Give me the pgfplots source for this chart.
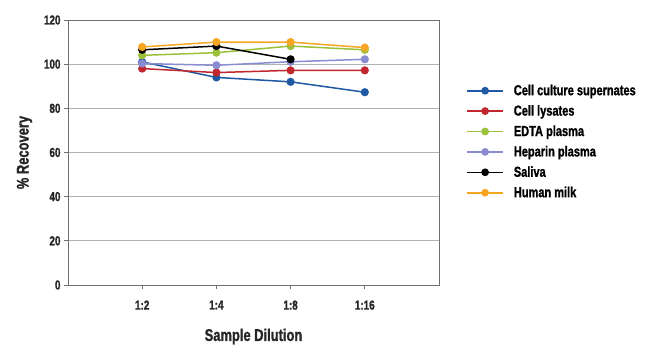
\documentclass[border=0pt]{standalone}
\usepackage{fontspec}
\setmainfont{Liberation Sans}[FakeStretch=0.76, BoldFont={Liberation Sans Bold}, BoldFeatures={FakeStretch=0.76, FakeBold=1.2}]
\usepackage{pgfplots}
\pgfplotsset{compat=1.18}
\definecolor{cblue}{HTML}{1F58A3}
\definecolor{cred}{HTML}{C1272D}
\definecolor{cgreen}{HTML}{9DC03B}
\definecolor{cpurple}{HTML}{8A8CD2}
\definecolor{corange}{HTML}{F6A623}
\definecolor{frame}{HTML}{707070}
\begin{document}
\begin{tikzpicture}[x=1pt,y=1pt]
\begin{axis}[
  at={(0,0)}, anchor=south west,
  scale only axis, width=371pt, height=265pt,
  xmin=0, xmax=5, ymin=0, ymax=120,
  xtick={1,2,3,4}, xticklabels={1:2,1:4,1:8,1:16},
  ytick={0,20,...,120},
  ymajorgrids, grid style={draw=gray!60, line width=0.8pt},
  axis line style={draw=frame, line width=0.8pt},
  tick style={draw=frame, line width=0.8pt},
  tick align=outside, major tick length=4pt,
  xtick pos=bottom, ytick pos=left,
  /pgf/number format/assume math mode=true,
  ticklabel style={font=\fontsize{13}{15}\selectfont\bfseries, text=black!85},
  xticklabel style={yshift=-8pt},
  xlabel={Sample Dilution}, ylabel={\% Recovery},
  label style={font=\fontsize{17}{19}\selectfont\bfseries, text=black!85},
  xlabel style={yshift=-12pt},
  ylabel style={yshift=5pt},
  every axis plot/.append style={line width=1.5pt, mark=*, mark size=3.3pt},
  legend style={at={(rel axis cs:1.065,0.78)}, anchor=north west, draw=none, fill=none,
    font=\fontsize{14.5}{16}\selectfont\bfseries, row sep=0pt,
    nodes={minimum height=20.4pt, inner ysep=0pt},
    legend cell align=left},
  legend image code/.code={\draw[#1, line width=1.6pt] (0pt,0pt) -- (36pt,0pt); \path[#1, mark size=3.1pt] plot coordinates {(18pt,0pt)}; \path (44pt,0pt);},
]
\addplot[color=cblue] coordinates {(1,101) (2,94) (3,92) (4,87.3)};
\addlegendentry{Cell culture supernates}
\addplot[color=cred] coordinates {(1,98) (2,96.2) (3,97.2) (4,97.2)};
\addlegendentry{Cell lysates}
\addplot[color=cgreen] coordinates {(1,104) (2,105.2) (3,108.2) (4,106.5)};
\addlegendentry{EDTA plasma}
\addplot[color=cpurple] coordinates {(1,100.3) (2,99.5) (3,101.1) (4,102.2)};
\addlegendentry{Heparin plasma}
\addplot[color=black] coordinates {(1,106.5) (2,108.2) (3,102.2)};
\addlegendentry{Saliva}
\addplot[color=corange] coordinates {(1,107.8) (2,110) (3,110) (4,107.5)};
\addlegendentry{Human milk}
\end{axis}
\path[use as bounding box] (-68,-69) rectangle (582,285);
\end{tikzpicture}
\end{document}
